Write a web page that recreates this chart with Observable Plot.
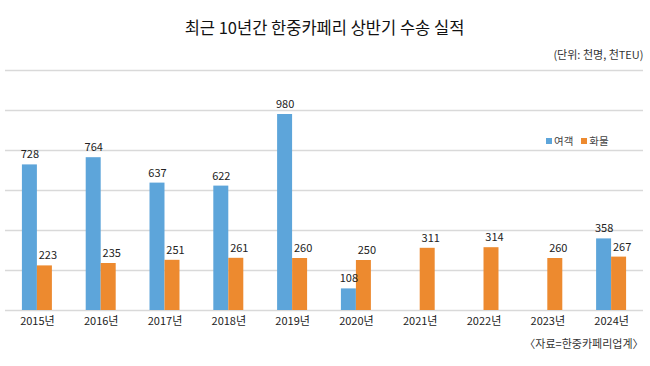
<!DOCTYPE html>
<html>
<head>
<meta charset="utf-8">
<script src="https://cdn.jsdelivr.net/npm/d3@7"></script>
<script src="https://cdn.jsdelivr.net/npm/@observablehq/plot@0.6"></script>
<style>
  html, body { margin: 0; padding: 0; background: #fff; }
  #wrap { position: relative; width: 650px; height: 366px; font-family: "Noto Sans CJK KR", "Noto Sans", sans-serif; color: #222; }
  #legend { position: absolute; left: 546px; top: 133px; font-size: 10.5px; color: #444; display: flex; gap: 8px; }
  #legend span.sw { display: inline-block; width: 6px; height: 6px; margin-right: 2px; vertical-align: 1px; }
</style>
</head>
<body>
<div id="wrap"></div>
<script>
const title = "최근 10년간 한중카페리 상반기 수송 실적";
const unitNote = "(단위: 천명, 천TEU)";
const source = "〈자료=한중카페리업계〉";
const years = ["2015", "2016", "2017", "2018", "2019", "2020", "2021", "2022", "2023", "2024"];
const seriesNames = ["여객", "화물"];
const seriesColors = ["#5DA5DA", "#ED8A2F"];
const passengers = [728, 764, 637, 622, 980, 108, null, null, null, 358];
const cargo = [223, 235, 251, 261, 260, 250, 311, 314, 260, 267];
const yTicks = [0, 200, 400, 600, 800, 1000, 1200];

const pData = years.map((y, i) => ({year: y, value: passengers[i]})).filter(d => d.value != null);
const cData = years.map((y, i) => ({year: y, value: cargo[i]}));

const half = 15;
const font = "Noto Sans CJK KR";

const chart = Plot.plot({
  width: 650,
  height: 366,
  marginTop: 70,
  marginBottom: 56,
  marginLeft: 5,
  marginRight: 7,
  style: {fontFamily: font, background: "white"},
  x: {type: "band", domain: years, paddingInner: 0.53, paddingOuter: 0.265, round: false},
  y: {domain: [0, 1200], axis: null},
  marks: [
    Plot.ruleY(yTicks, {stroke: "#d9d9d9", strokeWidth: 1.5}),
    Plot.barY(pData, {x: "year", y: "value", fill: seriesColors[0], insetRight: half}),
    Plot.barY(cData, {x: "year", y: "value", fill: seriesColors[1], insetLeft: half}),
    Plot.text(pData, {x: "year", y: "value", text: d => String(d.value), dx: -half / 2, dy: -10, fontSize: 11, fill: "#222"}),
    Plot.text(cData, {x: "year", y: "value", text: d => String(d.value), dx: half / 2 + 3, dy: -10, fontSize: 11, fill: "#222"}),
    Plot.axisX({tickSize: 0, tickPadding: 7, tickFormat: d => d + "년", fontSize: 11, color: "#222", label: null}),
    Plot.text([title], {frameAnchor: "top", dy: -48, fontSize: 16.5, fontWeight: 400, fill: "#111"}),
    Plot.text([unitNote], {frameAnchor: "top-right", dy: -19, fontSize: 11, fill: "#333", textAnchor: "end"}),
    Plot.text([source], {frameAnchor: "bottom-right", dy: 37, fontSize: 11, fill: "#333", textAnchor: "end"})
  ]
});

const wrap = document.getElementById("wrap");
wrap.appendChild(chart);
const legend = document.createElement("div");
legend.id = "legend";
legend.innerHTML = seriesNames.map((n, i) => `<div><span class="sw" style="background:${seriesColors[i]}"></span>${n}</div>`).join("");
wrap.appendChild(legend);
</script>
</body>
</html>
